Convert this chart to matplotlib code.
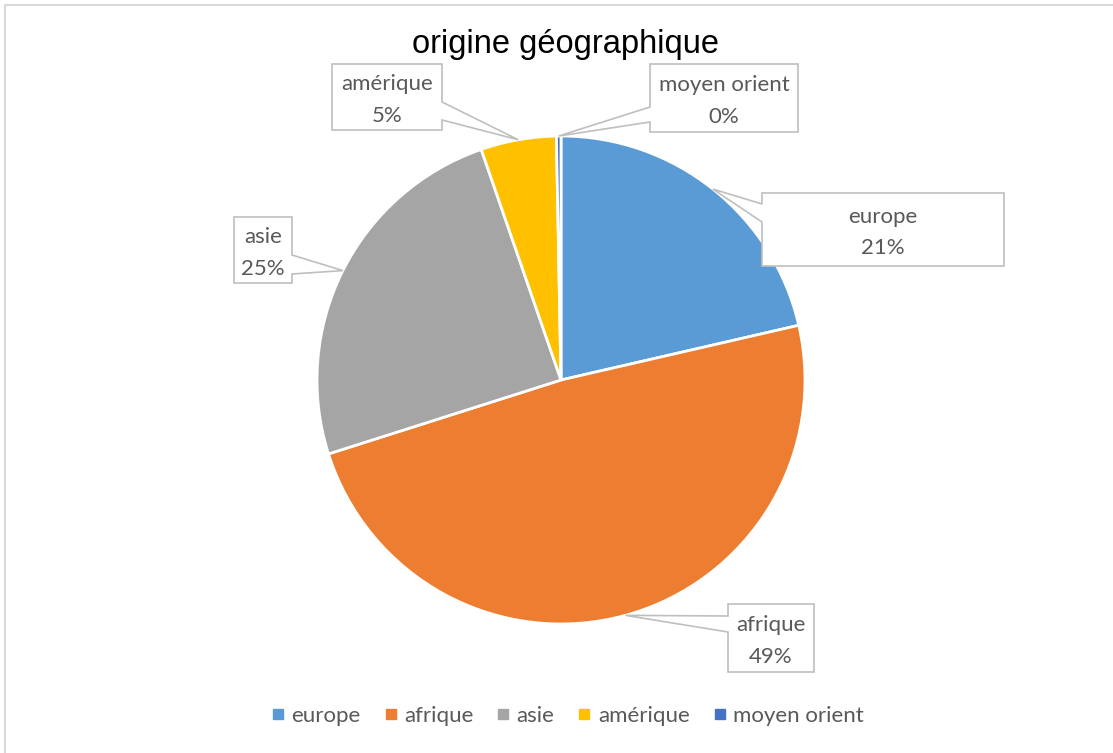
import matplotlib
matplotlib.use("Agg")
import matplotlib.pyplot as plt
from matplotlib.lines import Line2D
from matplotlib.patches import Polygon
import numpy as np

# data
categories = ["europe", "afrique", "asie", "amérique", "moyen orient"]
shares = [21.4, 48.7, 24.6, 5.0, 0.3]
colors = ["#5B9BD5", "#ED7D31", "#A5A5A5", "#FFC000", "#4472C4"]
title = "origine géographique"

# callout boxes in pixel coords (x0, x1, top, bottom), side of tail, tail attach y's
callouts = {
    "europe": ((762, 1004, 193, 266), "left", (204, 222)),
    "afrique": ((728, 814, 604, 672), "left", (616, 632)),
    "asie": ((234, 292, 217, 283), "right", (255, 274)),
    "amérique": ((332, 442, 64, 130), "right", (102, 120)),
    "moyen orient": ((650, 798, 64, 132), "left", (107, 122)),
}

W, H = 1113, 753
CX, CY, R = 561, 380, 244
LABEL_FONT = ["Lato", "DejaVu Sans"]
GREY_TXT = "#595959"
GREY_LINE = "#BFBFBF"

fig = plt.figure(figsize=(W / 100, H / 100), dpi=100)
ax = fig.add_axes([0, 0, 1, 1])

wedges, _ = ax.pie(
    shares,
    colors=colors,
    startangle=90,
    counterclock=False,
    center=(CX, H - CY),
    radius=R,
    wedgeprops=dict(edgecolor="white", linewidth=2),
)
ax.set_xlim(0, W)
ax.set_ylim(0, H)
ax.set_aspect("equal")
ax.axis("off")


def callout_poly(box, side, attach, tip):
    x0, x1, y0, y1 = box
    a1, a2 = attach
    pts = [(x0, y0), (x1, y0)]
    if side == "right":
        pts += [(x1, a1), tip, (x1, a2)]
    pts += [(x1, y1), (x0, y1)]
    if side == "left":
        pts += [(x0, a2), tip, (x0, a1)]
    return [(x, H - y) for x, y in pts]


for name, w, val in zip(categories, wedges, shares):
    box, side, attach = callouts[name]
    mid = np.deg2rad((w.theta1 + w.theta2) / 2)
    tip = (CX + R * np.cos(mid), CY - R * np.sin(mid))
    poly = Polygon(callout_poly(box, side, attach, tip), closed=True,
                   facecolor="white", edgecolor=GREY_LINE, linewidth=1.2, zorder=5)
    ax.add_patch(poly)
    pct = val / sum(shares) * 100
    ax.text((box[0] + box[1]) / 2, H - (box[2] + box[3]) / 2 - 3,
            f"{name}\n{pct:.0f}%", ha="center", va="center",
            fontsize=16, color=GREY_TXT, family=LABEL_FONT,
            linespacing=1.7, zorder=6)

# outer frame (only top & left visible in the crop)
ax.plot([5, W], [H - 5, H - 5], color="#D9D9D9", lw=1.5, clip_on=False)
ax.plot([5, 5], [H - 5, 0], color="#D9D9D9", lw=1.5, clip_on=False)

fig.text(565 / W, 1 - 45 / H, title, ha="center", va="center",
         fontsize=23.5, family=["Liberation Sans", "DejaVu Sans"], color="black")

handles = [Line2D([], [], marker="s", linestyle="none", markersize=7.5,
                  markerfacecolor=c, markeredgecolor=c) for c in colors]
leg = fig.legend(handles, categories, loc="center", ncol=5,
                 bbox_to_anchor=(568 / W, 1 - 716 / H), frameon=False,
                 handlelength=0.5, handletextpad=0.35, columnspacing=1.1,
                 prop=dict(family=LABEL_FONT, size=16))
for t in leg.get_texts():
    t.set_color(GREY_TXT)

fig.savefig("out.png", dpi=100)
plt.close(fig)
